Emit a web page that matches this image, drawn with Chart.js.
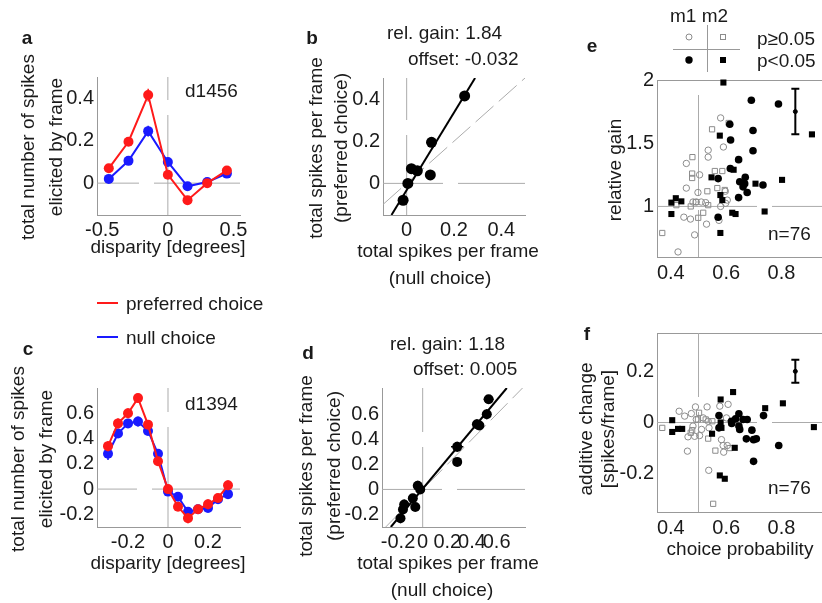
<!DOCTYPE html>
<html>
<head>
<meta charset="utf-8">
<script src="https://cdn.jsdelivr.net/npm/chart.js@4/dist/chart.umd.min.js"></script>
<style>
html, body { margin: 0; padding: 0; background: #fff; overflow: hidden; }
body { width: 822px; height: 603px; position: relative; font-family: "Liberation Sans", Arial, sans-serif; color: #1a1a1a; }
canvas { position: absolute; left: 0; top: 0; }
.t { position: absolute; font-size: 19px; line-height: 1; white-space: nowrap; transform: translateY(-50%); }
.c { transform: translate(-50%, -50%); }
.r { transform: translate(-50%, -50%) rotate(-90deg); }
.b { font-weight: bold; }
.key { position: absolute; height: 0; border-top: 2px solid; }
</style>
</head>
<body>
<canvas id="pa" width="830" height="603"></canvas>
<canvas id="pb" width="830" height="603"></canvas>
<canvas id="pc" width="830" height="603"></canvas>
<canvas id="pd" width="830" height="603"></canvas>
<canvas id="pe" width="830" height="603"></canvas>
<canvas id="pf" width="830" height="603"></canvas>

<!-- panel letters -->
<div class="t c b" style="left:27px;top:37px">a</div>
<div class="t c b" style="left:312px;top:37px">b</div>
<div class="t c b" style="left:28px;top:348px">c</div>
<div class="t c b" style="left:308px;top:352px">d</div>
<div class="t c b" style="left:592px;top:45px">e</div>
<div class="t c b" style="left:587px;top:333px">f</div>

<!-- axis titles -->
<div class="t r" style="left:27px;top:147px">total number of spikes</div>
<div class="t r" style="left:55px;top:147px">elicited by frame</div>
<div class="t c" style="left:168px;top:246px">disparity [degrees]</div>
<div class="t r" style="left:17px;top:459px">total number of spikes</div>
<div class="t r" style="left:45px;top:459px">elicited by frame</div>
<div class="t c" style="left:168px;top:562px">disparity [degrees]</div>
<div class="t r" style="left:315px;top:148px">total spikes per frame</div>
<div class="t r" style="left:340px;top:148px">(preferred choice)</div>
<div class="t c" style="left:448px;top:250px">total spikes per frame</div>
<div class="t c" style="left:440px;top:277px">(null choice)</div>
<div class="t r" style="left:305px;top:466px">total spikes per frame</div>
<div class="t r" style="left:333px;top:466px">(preferred choice)</div>
<div class="t c" style="left:448px;top:562px">total spikes per frame</div>
<div class="t c" style="left:442px;top:589px">(null choice)</div>
<div class="t r" style="left:614px;top:170px">relative gain</div>
<div class="t r" style="left:585px;top:429px">additive change</div>
<div class="t r" style="left:607px;top:429px">[spikes/frame]</div>
<div class="t c" style="left:740px;top:548px">choice probability</div>

<!-- annotations -->
<div class="t" style="left:185px;top:90px">d1456</div>
<div class="t" style="left:185px;top:403px">d1394</div>
<div class="t" style="left:387px;top:32px">rel. gain: 1.84</div>
<div class="t" style="left:408px;top:58px">offset: -0.032</div>
<div class="t" style="left:390px;top:343px">rel. gain: 1.18</div>
<div class="t" style="left:413px;top:368px">offset: 0.005</div>
<div class="t" style="left:768px;top:233px">n=76</div>
<div class="t" style="left:768px;top:487px">n=76</div>

<!-- choice legend -->
<div class="key" style="left:97px;top:302px;width:21px;border-color:#ff1a1a"></div>
<div class="t" style="left:126px;top:303px">preferred choice</div>
<div class="key" style="left:97px;top:336px;width:21px;border-color:#1a1aff"></div>
<div class="t" style="left:126px;top:337px">null choice</div>

<!-- monkey / significance key -->
<div class="t c" style="left:699px;top:15px">m1 m2</div>
<div class="t" style="left:757px;top:38px">p≥0.05</div>
<div class="t" style="left:757px;top:60px">p&lt;0.05</div>

<script>
// ---------- data ----------
// a: cell d1456, spikes per frame vs disparity
const aDisp = [-0.45, -0.3, -0.15, 0, 0.15, 0.3, 0.45];
const aPref = [0.07, 0.195, 0.415, 0.04, -0.08, 0.0, 0.06];
const aPrefErr = [0.015, 0.02, 0.03, 0.015, 0.015, 0.02, 0.02];
const aNull = [0.02, 0.105, 0.245, 0.10, -0.015, 0.005, 0.045];
const aNullErr = [0.01, 0.012, 0.025, 0.01, 0.01, 0.012, 0.01];

// c: cell d1394
const cDisp = [-0.3, -0.25, -0.2, -0.15, -0.1, -0.05, 0, 0.05, 0.1, 0.15, 0.2, 0.25, 0.3];
const cPref = [0.34, 0.52, 0.60, 0.72, 0.51, 0.22, 0.0, -0.14, -0.23, -0.16, -0.12, -0.07, 0.03];
const cPrefErr = [0.04, 0.04, 0.04, 0.035, 0.03, 0.03, 0.03, 0.03, 0.04, 0.03, 0.04, 0.03, 0.04];
const cNull = [0.28, 0.44, 0.52, 0.535, 0.46, 0.28, -0.02, -0.06, -0.18, -0.16, -0.15, -0.08, -0.04];
const cNullErr = [0.05, 0.03, 0.035, 0.04, 0.03, 0.025, 0.03, 0.03, 0.035, 0.03, 0.03, 0.03, 0.03];

// b, d: fitted gain / offset
const bGain = 1.84, bOffset = -0.032;
const dGain = 1.18, dOffset = 0.005;

// e: choice probability vs relative gain  [cp, gain]
const eM1Sig = [[0.691,1.84],[0.789,1.81],[0.613,1.65],[0.697,1.6],[0.616,1.525],[0.697,1.44],[0.645,1.37],
  [0.615,1.30],[0.571,1.22],[0.649,1.195],[0.669,1.23],[0.667,1.18],[0.661,1.155],[0.676,1.11],[0.645,1.07],
  [0.733,1.17],[0.571,0.915]];
const eM2Sig = [[0.59,1.98],[0.91,1.57],[0.577,1.56],[0.627,1.29],[0.547,1.23],[0.706,1.18],[0.802,1.21],
  [0.579,1.09],[0.586,1.05],[0.402,1.03],[0.418,1.065],[0.438,1.04],[0.402,0.94],[0.622,0.95],[0.634,0.94],
  [0.739,0.96],[0.579,0.79]];
const eM1Ns = [[0.58,1.70],[0.59,1.47],[0.535,1.445],[0.535,1.39],[0.456,1.34],[0.504,1.25],[0.456,1.145],
  [0.498,1.11],[0.597,1.12],[0.48,1.035],[0.492,1.035],[0.51,1.035],[0.526,1.03],[0.604,1.05],[0.58,1.0],
  [0.447,0.915],[0.471,0.90],[0.529,0.86],[0.574,0.89],[0.486,0.775],[0.426,0.64],[0.598,1.025]];
const eM2Ns = [[0.609,1.66],[0.549,1.61],[0.478,1.39],[0.477,1.26],[0.477,1.225],[0.532,1.12],[0.559,1.28],
  [0.586,1.28],[0.568,1.145],[0.595,1.13],[0.472,1.0],[0.42,1.01],[0.49,1.035],[0.535,1.01],[0.517,0.95],
  [0.499,0.91],[0.369,0.79]];
const eRep = { cp: 0.85, val: 1.75, err: 0.18 };

// f: choice probability vs additive change  [cp, change]
const fM1Sig = [[0.574,0.027],[0.646,0.034],[0.735,0.027],[0.619,0.005],[0.634,0.014],[0.661,0.012],[0.676,0.012],
  [0.646,-0.014],[0.649,-0.027],[0.574,-0.021],[0.693,-0.03],[0.673,-0.064],[0.699,-0.067],[0.709,-0.064],
  [0.79,-0.09],[0.699,-0.152],[0.62,-0.004]];
const fM2Sig = [[0.625,0.119],[0.58,0.09],[0.805,0.075],[0.741,0.056],[0.405,0.009],[0.405,-0.037],[0.426,-0.025],
  [0.441,-0.025],[0.58,0.0],[0.549,-0.044],[0.917,-0.018],[0.631,-0.099],[0.577,-0.207],[0.595,-0.22],[0.583,-0.021]];
const fM1Ns = [[0.43,0.044],[0.45,0.025],[0.474,0.035],[0.489,0.061],[0.531,0.061],[0.577,0.064],[0.607,0.071],
  [0.492,0.012],[0.517,0.018],[0.535,0.005],[0.601,0.018],[0.48,-0.014],[0.511,-0.027],[0.538,-0.021],
  [0.462,-0.056],[0.486,-0.054],[0.504,-0.051],[0.583,-0.067],[0.589,-0.09],[0.591,-0.116],[0.46,-0.112],
  [0.537,-0.187],[0.604,-0.09]];
const fM2Ns = [[0.369,-0.021],[0.502,0.038],[0.526,0.012],[0.55,0.005],[0.477,-0.03],[0.472,-0.04],[0.535,-0.063],
  [0.561,-0.11],[0.613,-0.1],[0.553,-0.318],[0.498,0.012]];
const fRep = { cp: 0.85, val: 0.2, err: 0.045 };

// axis ranges and ticks
const aX = [-0.54, 0.55], aY = [-0.15, 0.5], aXTicks = [-0.5, 0, 0.5], aYTicks = [0, 0.2, 0.4];
const bX = [-0.1, 0.5], bY = [-0.15, 0.5], bXTicks = [0, 0.2, 0.4], bYTicks = [0, 0.2, 0.4];
const cX = [-0.355, 0.36], cY = [-0.3, 0.8], cXTicks = [-0.2, 0, 0.2], cYTicks = [-0.2, 0, 0.2, 0.4, 0.6];
const dX = [-0.33, 0.83], dY = [-0.3, 0.81], dXTicks = [-0.2, 0, 0.2, 0.4, 0.6], dYTicks = [-0.2, 0, 0.2, 0.4, 0.6];
const eX = [0.35, 0.95], eY = [0.6, 2.0], eXTicks = [0.4, 0.6, 0.8], eYTicks = [1, 1.5, 2];
const fY = [-0.35, 0.35], fYTicks = [-0.2, 0, 0.2];

// ---------- styling ----------
const RED = '#ff1a1a', BLUE = '#1a1aff', REF = '#ababab', AXIS = '#999', OPEN = '#8c8c8c';
const W = 830, H = 603;
Chart.defaults.font.family = "'Liberation Sans', Arial, sans-serif";
Chart.defaults.color = '#1a1a1a';

const pts = arr => arr.map(([x, y]) => ({ x, y }));
const zip = (xs, ys) => xs.map((x, i) => ({ x, y: ys[i] }));

// error bars, drawn right after their dataset
const errorBars = {
  id: 'errorBars',
  afterDatasetDraw(chart, args) {
    const ds = chart.data.datasets[args.index];
    if (!ds.errY && !ds.errX) return;
    const ctx = chart.ctx, xs = chart.scales.x, ys = chart.scales.y;
    ctx.save();
    ctx.strokeStyle = ds.errColor || ds.borderColor;
    ctx.lineWidth = ds.errWidth || 1.5;
    const cap = ds.errCap || 0;
    ds.data.forEach((p, i) => {
      const px = xs.getPixelForValue(p.x), py = ys.getPixelForValue(p.y);
      ctx.beginPath();
      if (ds.errY) {
        const t = ys.getPixelForValue(p.y + ds.errY[i]), b = ys.getPixelForValue(p.y - ds.errY[i]);
        ctx.moveTo(px, t); ctx.lineTo(px, b);
        if (cap) { ctx.moveTo(px - cap, t); ctx.lineTo(px + cap, t); ctx.moveTo(px - cap, b); ctx.lineTo(px + cap, b); }
      }
      if (ds.errX) {
        ctx.moveTo(xs.getPixelForValue(p.x - ds.errX[i]), py);
        ctx.lineTo(xs.getPixelForValue(p.x + ds.errX[i]), py);
      }
      ctx.stroke();
    });
    ctx.restore();
  }
};

// full box round the plot (e, f)
const frame = {
  id: 'frame',
  beforeDatasetsDraw(chart, args, opts) {
    if (!opts.on) return;
    const a = chart.chartArea, ctx = chart.ctx;
    ctx.save();
    ctx.strokeStyle = AXIS; ctx.lineWidth = 1;
    ctx.strokeRect(a.left + 0.5, a.top + 0.5, a.right - a.left, a.bottom - a.top);
    ctx.restore();
  }
};

// m1/m2 significance key above e
const cpKey = {
  id: 'cpKey',
  afterDraw(chart, args, opts) {
    if (!opts.on) return;
    const ctx = chart.ctx;
    ctx.save();
    ctx.strokeStyle = AXIS; ctx.lineWidth = 1;
    ctx.beginPath();
    ctx.moveTo(673, 49.5); ctx.lineTo(740, 49.5);
    ctx.moveTo(707.5, 25); ctx.lineTo(707.5, 72);
    ctx.stroke();
    ctx.strokeStyle = OPEN;
    ctx.beginPath(); ctx.arc(689, 37, 3, 0, 2 * Math.PI); ctx.stroke();
    ctx.strokeRect(720.5, 34.5, 5, 5);
    ctx.fillStyle = '#000';
    ctx.beginPath(); ctx.arc(689, 60, 3.7, 0, 2 * Math.PI); ctx.fill();
    ctx.fillRect(720, 57, 6, 6);
    ctx.restore();
  }
};
Chart.register(errorBars, frame, cpKey);

function axis(range, ticks, size, dir, pad) {
  return {
    type: 'linear', min: range[0], max: range[1],
    afterBuildTicks: s => { s.ticks = ticks.map(v => ({ value: v })); },
    afterFit: s => { if (dir === 'x') s.height = size; else s.width = size; },
    grid: { display: true, drawOnChartArea: false, drawTicks: false },
    border: { display: true, color: AXIS, width: 1 },
    ticks: { padding: pad, font: { size: 20 }, autoSkip: false, maxRotation: 0, callback: v => String(v) },
    title: { display: false }
  };
}

function makePanel(id, cfg) {
  const box = cfg.box, yW = 60, xH = 40;
  return new Chart(document.getElementById(id), {
    type: 'scatter',
    data: { datasets: cfg.datasets },
    options: {
      responsive: false, animation: false, events: [],
      layout: { autoPadding: false, padding: { left: box.l - yW, top: box.t, right: W - box.r, bottom: H - box.b - xH } },
      plugins: { legend: { display: false }, tooltip: { enabled: false }, frame: { on: !!cfg.frame }, cpKey: { on: !!cfg.key } },
      scales: {
        x: axis(cfg.xRange, cfg.xTicks, xH, 'x', cfg.xPad || 3),
        y: axis(cfg.yRange, cfg.yTicks, yW, 'y', cfg.yPad || 3)
      }
    }
  });
}

function refLine(p0, p1, offset) {
  return { type: 'line', data: [p0, p1], borderColor: REF, borderWidth: 1, borderDash: [100, 15],
           borderDashOffset: offset || 0, pointRadius: 0, order: 10 };
}
function tuning(xs, ys, errs, color) {
  return { type: 'line', data: zip(xs, ys), borderColor: color, backgroundColor: color, borderWidth: 2,
           pointRadius: 5, pointBorderWidth: 0, errY: errs, errWidth: 1.5, clip: false };
}
function fitLine(gain, offset, yr, xr) {
  const y0 = Math.max(yr[0], gain * xr[0] + offset), y1 = Math.min(yr[1], gain * xr[1] + offset);
  return { type: 'line', data: [{ x: (y0 - offset) / gain, y: y0 }, { x: (y1 - offset) / gain, y: y1 }],
           borderColor: '#000', borderWidth: 2, pointRadius: 0, order: 5 };
}
function identity(r) {
  return { type: 'line', data: [{ x: r[0], y: r[0] }, { x: r[1], y: r[1] }], borderColor: REF, borderWidth: 1,
           borderDash: [24, 7], pointRadius: 0, order: 9 };
}
function cpSets(m1Sig, m2Sig, m1Ns, m2Ns, rep) {
  return [
    { data: [{ x: rep.cp, y: rep.val }], pointRadius: 2, backgroundColor: '#000', borderColor: '#000',
      errY: [rep.err], errCap: 4, errWidth: 2, clip: false },
    { data: pts(m1Sig), pointStyle: 'circle', pointRadius: 3.8, backgroundColor: '#000', borderWidth: 0, clip: false },
    { data: pts(m2Sig), pointStyle: 'rect', pointRadius: 4.3, backgroundColor: '#000', borderWidth: 0, clip: false },
    { data: pts(m1Ns), pointStyle: 'circle', pointRadius: 3.2, backgroundColor: 'rgba(0,0,0,0)', borderColor: OPEN, borderWidth: 1, clip: false },
    { data: pts(m2Ns), pointStyle: 'rect', pointRadius: 3.7, backgroundColor: 'rgba(0,0,0,0)', borderColor: OPEN, borderWidth: 1, clip: false }
  ];
}

// ---------- panels ----------
makePanel('pa', {
  box: { l: 97, t: 77, r: 240, b: 215 }, xRange: aX, yRange: aY, xTicks: aXTicks, yTicks: aYTicks,
  datasets: [
    tuning(aDisp, aPref, aPrefErr, RED),
    tuning(aDisp, aNull, aNullErr, BLUE),
    refLine({ x: aX[0], y: 0 }, { x: aX[1], y: 0 }, 58),
    refLine({ x: 0, y: aY[0] }, { x: 0, y: aY[1] }, 0)
  ]
});

makePanel('pc', {
  box: { l: 97, t: 388, r: 240, b: 527 }, xRange: cX, yRange: cY, xTicks: cXTicks, yTicks: cYTicks,
  datasets: [
    tuning(cDisp, cPref, cPrefErr, RED),
    tuning(cDisp, cNull, cNullErr, BLUE),
    refLine({ x: cX[0], y: 0 }, { x: cX[1], y: 0 }, 60),
    refLine({ x: 0, y: cY[0] }, { x: 0, y: cY[1] }, 0)
  ]
});

makePanel('pb', {
  box: { l: 383, t: 78, r: 525, b: 215 }, xRange: bX, yRange: bY, xTicks: bXTicks, yTicks: bYTicks,
  datasets: [
    { data: zip(aNull, aPref), pointRadius: 5.5, backgroundColor: '#000', borderWidth: 0, clip: false },
    fitLine(bGain, bOffset, bY, bX),
    identity(bX),
    refLine({ x: bX[0], y: 0 }, { x: bX[1], y: 0 }, 40),
    refLine({ x: 0, y: bY[0] }, { x: 0, y: bY[1] }, 20)
  ]
});

makePanel('pd', {
  box: { l: 382, t: 388, r: 525, b: 527 }, xRange: dX, yRange: dY, xTicks: dXTicks, yTicks: dYTicks,
  datasets: [
    { data: zip(cNull, cPref), pointRadius: 5, backgroundColor: '#000', borderColor: '#000', borderWidth: 0,
      errY: cPrefErr, errX: cNullErr, errWidth: 1.5, clip: false },
    fitLine(dGain, dOffset, dY, dX),
    identity(dX),
    refLine({ x: dX[0], y: 0 }, { x: dX[1], y: 0 }, 40),
    refLine({ x: 0, y: dY[0] }, { x: 0, y: dY[1] }, 20)
  ]
});

makePanel('pe', {
  box: { l: 657, t: 80, r: 823, b: 257 }, xRange: eX, yRange: eY, xTicks: eXTicks, yTicks: eYTicks,
  xPad: 4, frame: true, key: true,
  datasets: [
    ...cpSets(eM1Sig, eM2Sig, eM1Ns, eM2Ns, eRep),
    refLine({ x: eX[0], y: 1 }, { x: eX[1], y: 1 }, 0),
    refLine({ x: 0.5, y: eY[0] }, { x: 0.5, y: eY[1] }, 53)
  ]
});

makePanel('pf', {
  box: { l: 657, t: 333, r: 823, b: 512 }, xRange: eX, yRange: fY, xTicks: eXTicks, yTicks: fYTicks,
  xPad: 4, frame: true,
  datasets: [
    ...cpSets(fM1Sig, fM2Sig, fM1Ns, fM2Ns, fRep),
    refLine({ x: eX[0], y: 0 }, { x: eX[1], y: 0 }, 0),
    refLine({ x: 0.5, y: fY[0] }, { x: 0.5, y: fY[1] }, 0)
  ]
});
</script>
</body>
</html>
